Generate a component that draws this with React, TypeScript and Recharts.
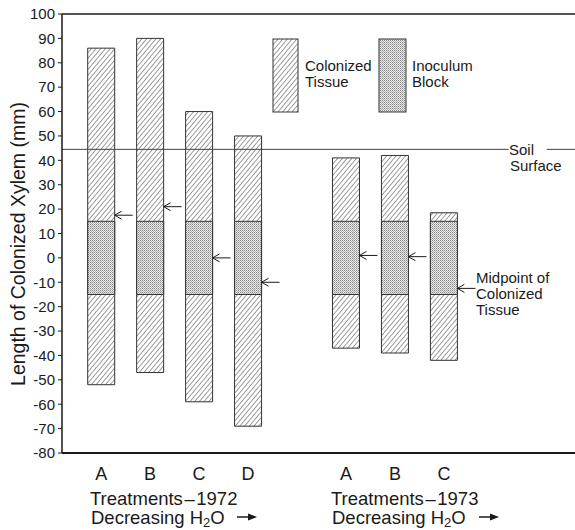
import {
  Bar,
  ComposedChart,
  ReferenceLine,
  Scatter,
  XAxis,
  YAxis,
} from 'recharts';

// treatments: 1972 A-D, gap, 1973 A-C
const treatmentLabels: string[] = ['A', 'B', 'C', 'D', 'A', 'B', 'C'];
const treatmentPositions: number[] = [1, 2, 3, 4, 6, 7, 8];
const colonizedTop: number[] = [86, 90, 60, 50, 41, 42, 18.5];
const colonizedBottom: number[] = [-52, -47, -59, -69, -37, -39, -42];
const blockTop: number[] = [15, 15, 15, 15, 15, 15, 15];
const blockBottom: number[] = [-15, -15, -15, -15, -15, -15, -15];
const midpoints: number[] = [17.5, 21, 0, -10, 1, 0.5, -12.5];
const yTicks: number[] = [
  -80, -70, -60, -50, -40, -30, -20, -10, 0, 10, 20, 30, 40, 50, 60, 70, 80, 90,
  100,
];
const soilSurface = 44.5;

const data = treatmentPositions.map((pos, i) => ({
  pos,
  label: treatmentLabels[i],
  colonized: [colonizedBottom[i], colonizedTop[i]],
  block: [blockBottom[i], blockTop[i]],
  mid: midpoints[i],
}));

const FONT = '"Liberation Sans", Arial, sans-serif';
const INK = '#1a1a1a';
const BAR_W = 27;

function MidArrow(props: any) {
  const { cx, cy } = props;
  if (cx == null || cy == null) return null;
  const x0 = cx + BAR_W / 2;
  return (
    <g stroke={INK} strokeWidth={1} fill="none">
      <line x1={x0} y1={cy} x2={x0 + 18} y2={cy} />
      <polyline points={`${x0 + 7},${cy - 4} ${x0},${cy} ${x0 + 7},${cy + 4}`} />
    </g>
  );
}

function Patterns() {
  return (
    <svg width={0} height={0} style={{ position: 'absolute' }}>
      <defs>
        <pattern
          id="hatch"
          patternUnits="userSpaceOnUse"
          width={3.6}
          height={3.6}
          patternTransform="rotate(40)"
        >
          <rect width={3.6} height={3.6} fill="#fff" />
          <line x1={0} y1={0} x2={0} y2={3.6} stroke="#3a3a3a" strokeWidth={1} />
        </pattern>
        <pattern id="stipple" patternUnits="userSpaceOnUse" width={2} height={2}>
          <rect width={2} height={2} fill="#e6e6e6" />
          <rect width={1} height={1} fill="#8a8a8a" />
          <rect x={1} y={1} width={1} height={1} fill="#b4b4b4" />
        </pattern>
      </defs>
    </svg>
  );
}

function Overlay() {
  const txt = { fontFamily: FONT, fill: INK };
  return (
    <svg
      width={575}
      height={530}
      style={{ position: 'absolute', left: 0, top: 0, pointerEvents: 'none' }}
    >
      {/* legend */}
      <rect x={273} y={39} width={25} height={73} fill="url(#hatch)" stroke="#333" />
      <rect x={379} y={39} width={27} height={73} fill="url(#stipple)" stroke="#333" />
      <text x={305} y={71} fontSize={15} {...txt}>Colonized</text>
      <text x={305} y={87} fontSize={15} {...txt}>Tissue</text>
      <text x={412} y={71} fontSize={15} {...txt}>Inoculum</text>
      <text x={412} y={87} fontSize={15} {...txt}>Block</text>

      {/* soil surface */}
      <text x={509} y={155} fontSize={15} {...txt}>Soil</text>
      <text x={510} y={171} fontSize={15} {...txt}>Surface</text>

      {/* midpoint note */}
      <text x={476} y={283} fontSize={15} {...txt}>Midpoint of</text>
      <text x={476} y={299} fontSize={15} {...txt}>Colonized</text>
      <text x={476} y={315} fontSize={15} {...txt}>Tissue</text>

      {/* y label */}
      <text
        transform="translate(25,244) rotate(-90)"
        textAnchor="middle"
        fontSize={19.5}
        {...txt}
      >
        Length of Colonized Xylem (mm)
      </text>

      {/* group labels */}
      <text x={90} y={505} fontSize={18.5} {...txt}>Treatments{'\u200a\u2013\u200a'}1972</text>
      <text x={91} y={524} fontSize={18.5} {...txt}>
        Decreasing H<tspan dy={3} fontSize={13}>2</tspan>
        <tspan dy={-3}>O</tspan>
      </text>
      <line x1={237} y1={517} x2={250} y2={517} stroke={INK} strokeWidth={1.5} />
      <path d="M248,513.5 L257,517 L248,520.5 Z" fill={INK} />

      <text x={331} y={505} fontSize={18.5} {...txt}>Treatments{'\u200a\u2013\u200a'}1973</text>
      <text x={332} y={524} fontSize={18.5} {...txt}>
        Decreasing H<tspan dy={3} fontSize={13}>2</tspan>
        <tspan dy={-3}>O</tspan>
      </text>
      <line x1={479} y1={517} x2={492} y2={517} stroke={INK} strokeWidth={1.5} />
      <path d="M490,513.5 L499,517 L490,520.5 Z" fill={INK} />
    </svg>
  );
}

export default function App() {
  return (
    <div
      style={{
        position: 'absolute',
        left: 0,
        top: 0,
        width: 575,
        height: 530,
        overflow: 'hidden',
        background: '#fff',
      }}
    >
      <Patterns />
      <ComposedChart
        width={580}
        height={530}
        data={data}
        margin={{ top: 14, right: 0, bottom: 47, left: 12 }}
        barGap={-BAR_W}
      >
        <XAxis
          dataKey="pos"
          type="number"
          domain={[0.2, 10.78]}
          allowDataOverflow
          ticks={treatmentPositions}
          tickFormatter={(v: number) => treatmentLabels[treatmentPositions.indexOf(v)] ?? ''}
          tickLine={false}
          tickMargin={8}
          height={30}
          axisLine={{ stroke: INK, strokeWidth: 2 }}
          tick={{ fill: INK, fontSize: 18, fontFamily: FONT }}
        />
        <YAxis
          yAxisId="left"
          type="number"
          domain={[-80, 100]}
          ticks={yTicks}
          width={50}
          tickSize={4}
          tickMargin={3}
          interval={0}
          axisLine={{ stroke: INK, strokeWidth: 1.5 }}
          tickLine={{ stroke: INK }}
          tick={{ fill: INK, fontSize: 15, fontFamily: FONT }}
        />
        <YAxis
          yAxisId="right"
          orientation="right"
          type="number"
          domain={[-80, 100]}
          ticks={yTicks}
          width={4}
          mirror
          tickSize={3}
          interval={0}
          tickFormatter={() => ''}
          axisLine={{ stroke: INK }}
          tickLine={{ stroke: '#555' }}
        />
        <ReferenceLine yAxisId="left" y={100} stroke={INK} strokeWidth={1.5} />
        <ReferenceLine
          yAxisId="left"
          stroke="#444"
          strokeWidth={1}
          segment={[
            { x: 0.2, y: soilSurface },
            { x: 9.32, y: soilSurface },
          ]}
        />
        <ReferenceLine
          yAxisId="left"
          stroke="#444"
          strokeWidth={1}
          segment={[
            { x: 10.1, y: soilSurface },
            { x: 10.78, y: soilSurface },
          ]}
        />
        <Bar
          yAxisId="left"
          dataKey="colonized"
          barSize={BAR_W}
          fill="url(#hatch)"
          stroke="#333"
          strokeWidth={1}
          isAnimationActive={false}
        />
        <Bar
          yAxisId="left"
          dataKey="block"
          barSize={BAR_W}
          fill="url(#stipple)"
          stroke="#333"
          strokeWidth={1}
          isAnimationActive={false}
        />
        <Scatter
          yAxisId="left"
          dataKey="mid"
          shape={(p: any) => <MidArrow {...p} />}
          isAnimationActive={false}
        />
      </ComposedChart>
      <Overlay />
    </div>
  );
}
